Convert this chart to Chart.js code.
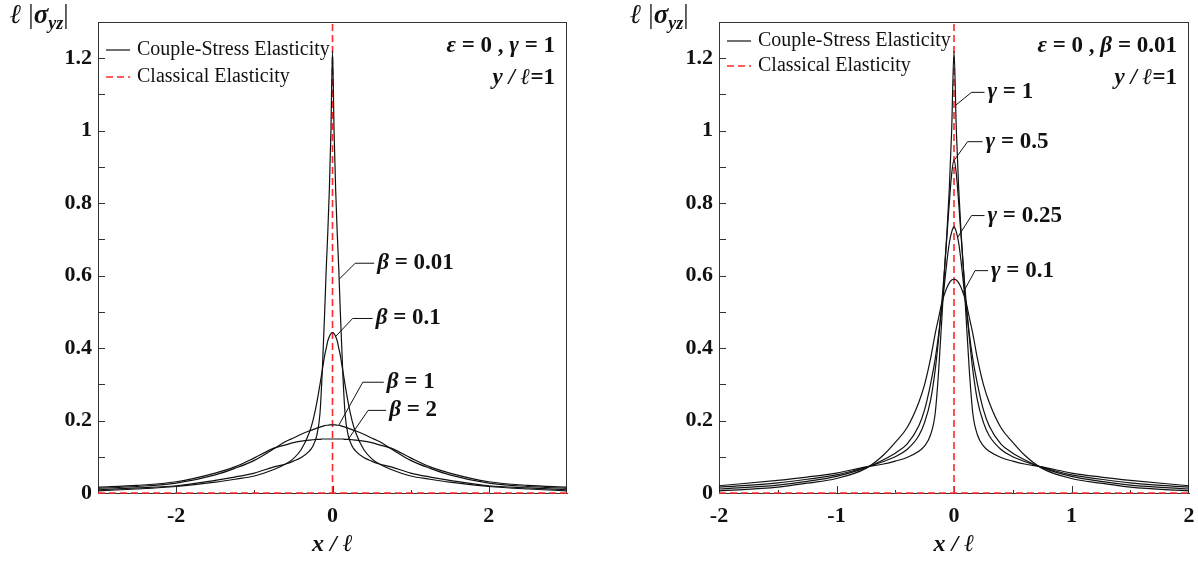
<!DOCTYPE html>
<html lang="en">
<head>
<meta charset="UTF-8">
<title>Couple-stress elasticity</title>
<style>
    body { margin: 0; background: #fff; }
    .panel { position: absolute; top: 0; }
</style>
</head>
<body>
<div class="panel" style="left:0"><canvas id="leftChart" width="600" height="561"></canvas></div>
<div class="panel" style="left:600px"><canvas id="rightChart" width="598" height="561"></canvas></div>

<script src="https://cdn.jsdelivr.net/npm/chart.js"></script>
<script>
// ---- data ----
// left panel: eps = 0, gamma = 1, y/l = 1
var xLeft = [-3, -2.5, -2, -1.5, -1.25, -1, -0.75, -0.6, -0.5, -0.4, -0.3, -0.25, -0.2, -0.16, -0.13, -0.1, -0.08, -0.06, -0.04, -0.02,
    0, 0.02, 0.04, 0.06, 0.08, 0.1, 0.13, 0.16, 0.2, 0.25, 0.3, 0.4, 0.5, 0.6, 0.75, 1, 1.25, 1.5, 2, 2.5, 3];
var beta001 = [0.009, 0.014, 0.02, 0.035, 0.044, 0.055, 0.072, 0.08, 0.088, 0.098, 0.115, 0.13, 0.16, 0.22, 0.34, 0.5, 0.62, 0.72, 0.84, 1.0,
    1.22, 1.0, 0.84, 0.72, 0.62, 0.5, 0.34, 0.22, 0.16, 0.13, 0.115, 0.098, 0.088, 0.08, 0.072, 0.055, 0.044, 0.035, 0.02, 0.014, 0.009];
var beta01 = [0.006, 0.011, 0.018, 0.03, 0.038, 0.047, 0.065, 0.08, 0.095, 0.12, 0.165, 0.2, 0.25, 0.3, 0.34, 0.38, 0.4, 0.42, 0.432, 0.44,
    0.443, 0.44, 0.432, 0.42, 0.4, 0.38, 0.34, 0.3, 0.25, 0.2, 0.165, 0.12, 0.095, 0.08, 0.065, 0.047, 0.038, 0.03, 0.018, 0.011, 0.006];
var beta1 = [0.013, 0.018, 0.027, 0.05, 0.068, 0.09, 0.122, 0.142, 0.152, 0.162, 0.171, 0.175, 0.179, 0.182, 0.184, 0.186, 0.187, 0.187, 0.188, 0.188,
    0.188, 0.188, 0.188, 0.187, 0.187, 0.186, 0.184, 0.182, 0.179, 0.175, 0.171, 0.162, 0.152, 0.142, 0.122, 0.09, 0.068, 0.05, 0.027, 0.018, 0.013];
var beta2 = [0.016, 0.021, 0.031, 0.055, 0.072, 0.097, 0.124, 0.133, 0.139, 0.143, 0.146, 0.147, 0.148, 0.148, 0.149, 0.149, 0.149, 0.149, 0.149, 0.149,
    0.149, 0.149, 0.149, 0.149, 0.149, 0.149, 0.149, 0.148, 0.148, 0.147, 0.146, 0.143, 0.139, 0.133, 0.124, 0.097, 0.072, 0.055, 0.031, 0.021, 0.016];

// right panel: eps = 0, beta = 0.01, y/l = 1
var xRight = [-2, -1.5, -1.25, -1, -0.75, -0.6, -0.5, -0.4, -0.3, -0.25, -0.2, -0.16, -0.13, -0.1, -0.08, -0.06, -0.04, -0.02,
    0, 0.02, 0.04, 0.06, 0.08, 0.1, 0.13, 0.16, 0.2, 0.25, 0.3, 0.4, 0.5, 0.6, 0.75, 1, 1.25, 1.5, 2];
var gamma1 = [0.02, 0.035, 0.044, 0.055, 0.072, 0.08, 0.088, 0.098, 0.115, 0.13, 0.16, 0.22, 0.34, 0.5, 0.62, 0.72, 0.84, 1.0,
    1.22, 1.0, 0.84, 0.72, 0.62, 0.5, 0.34, 0.22, 0.16, 0.13, 0.115, 0.098, 0.088, 0.08, 0.072, 0.055, 0.044, 0.035, 0.02];
var gamma05 = [0.016, 0.028, 0.038, 0.05, 0.071, 0.087, 0.1, 0.12, 0.158, 0.195, 0.255, 0.34, 0.43, 0.54, 0.62, 0.71, 0.8, 0.88,
    0.92, 0.88, 0.8, 0.71, 0.62, 0.54, 0.43, 0.34, 0.255, 0.195, 0.158, 0.12, 0.1, 0.087, 0.071, 0.05, 0.038, 0.028, 0.016];
var gamma025 = [0.011, 0.022, 0.032, 0.046, 0.07, 0.092, 0.11, 0.135, 0.185, 0.23, 0.3, 0.37, 0.44, 0.52, 0.58, 0.64, 0.69, 0.72,
    0.735, 0.72, 0.69, 0.64, 0.58, 0.52, 0.44, 0.37, 0.3, 0.23, 0.185, 0.135, 0.11, 0.092, 0.07, 0.046, 0.032, 0.022, 0.011];
var gamma01 = [0.006, 0.016, 0.027, 0.04, 0.068, 0.105, 0.14, 0.18, 0.25, 0.3, 0.37, 0.44, 0.485, 0.53, 0.55, 0.567, 0.58, 0.588,
    0.59, 0.588, 0.58, 0.567, 0.55, 0.53, 0.485, 0.44, 0.37, 0.3, 0.25, 0.18, 0.14, 0.105, 0.068, 0.04, 0.027, 0.016, 0.006];

// classical elasticity: zero line plus the singular line at x = 0
var classicSpikeX = [0, 0];
var classicSpikeY = [0, 1.3];

var yTicks = [0, 0.2, 0.4, 0.6, 0.8, 1, 1.2];
var xTicksLeft = [-2, 0, 2];
var xTicksRight = [-2, -1, 0, 1, 2];

var SERIF = '"Liberation Serif", "Times New Roman", serif';
var RED = '#ff2a2a';

function pts(xs, ys) {
    return xs.map(function (x, i) { return { x: x, y: ys[i] }; });
}

function curve(xs, ys) {
    return {
        data: pts(xs, ys),
        borderColor: '#111',
        borderWidth: 1.2,
        pointRadius: 0,
        cubicInterpolationMode: 'monotone',
        fill: false
    };
}

function dashed(xs, ys) {
    return {
        data: pts(xs, ys),
        borderColor: RED,
        borderWidth: 1.6,
        borderDash: [7, 4],
        pointRadius: 0,
        tension: 0,
        clip: 4
    };
}

function fontFor(p, size) {
    var s = p.sub ? Math.round(size * 0.68) : size;
    return (p.it ? 'italic ' : '') + (p.normal ? '' : 'bold ') + s + 'px ' + SERIF;
}

function drawRich(ctx, parts, x, y, size, align) {
    var w = 0;
    parts.forEach(function (p) { ctx.font = fontFor(p, size); w += ctx.measureText(p.t).width; });
    var cx = align === 'right' ? x - w : (align === 'center' ? x - w / 2 : x);
    ctx.textAlign = 'left';
    parts.forEach(function (p) {
        ctx.font = fontFor(p, size);
        ctx.fillText(p.t, cx, y + (p.sub ? size * 0.3 : 0));
        cx += ctx.measureText(p.t).width;
    });
}

// inward ticks, frame, legend and annotations
var decor = {
    id: 'decor',
    beforeDatasetsDraw: function (chart, args, o) {
        var ctx = chart.ctx, a = chart.chartArea, xs = chart.scales.x, ys = chart.scales.y;
        ctx.save();
        ctx.strokeStyle = '#333';
        ctx.lineWidth = 1;
        ctx.strokeRect(a.left + 0.5, a.top + 0.5, a.right - a.left - 1, a.bottom - a.top);
        ctx.beginPath();
        for (var v = 0; v <= 12; v++) {
            var py = Math.round(ys.getPixelForValue(v / 10)) + 0.5;
            ctx.moveTo(a.left, py);
            ctx.lineTo(a.left + 7, py);
        }
        o.xMajor.forEach(function (v) {
            var px = Math.round(xs.getPixelForValue(v)) + 0.5;
            ctx.moveTo(px, a.bottom);
            ctx.lineTo(px, a.bottom - 7);
        });
        o.xMinor.forEach(function (v) {
            var px = Math.round(xs.getPixelForValue(v)) + 0.5;
            ctx.moveTo(px, a.bottom);
            ctx.lineTo(px, a.bottom - 3);
        });
        ctx.stroke();
        ctx.restore();
    },
    afterDraw: function (chart, args, o) {
        var ctx = chart.ctx, a = chart.chartArea, xs = chart.scales.x, ys = chart.scales.y;
        ctx.save();
        ctx.fillStyle = '#111';
        ctx.textBaseline = 'middle';

        // y axis title  l|sigma_yz|
        drawRich(ctx, [{ t: 'ℓ', it: true }, { t: ' |', normal: true }, { t: 'σ', it: true }, { t: 'yz', it: true, sub: true }, { t: '|', normal: true }],
            o.yTitleX, 16, 27, 'left');
        // x axis title
        drawRich(ctx, [{ t: 'x', it: true }, { t: ' / ', it: true }, { t: 'ℓ', it: true }], (a.left + a.right) / 2, 545, 24, 'center');

        // legend
        var lx = a.left + o.legendDx;
        ctx.lineWidth = 1.2;
        ctx.strokeStyle = '#111';
        ctx.beginPath();
        ctx.moveTo(lx, o.legendY[0]); ctx.lineTo(lx + 24, o.legendY[0]);
        ctx.stroke();
        ctx.strokeStyle = RED;
        ctx.lineWidth = 1.6;
        ctx.setLineDash([7, 4]);
        ctx.beginPath();
        ctx.moveTo(lx, o.legendY[1]); ctx.lineTo(lx + 24, o.legendY[1]);
        ctx.stroke();
        ctx.setLineDash([]);
        drawRich(ctx, [{ t: 'Couple-Stress Elasticity', normal: true }], lx + 31, o.legendY[0], 20, 'left');
        drawRich(ctx, [{ t: 'Classical Elasticity', normal: true }], lx + 31, o.legendY[1], 20, 'left');

        // parameter notes
        drawRich(ctx, o.note, a.right - 12, 46, 23, 'right');
        drawRich(ctx, [{ t: 'y', it: true }, { t: ' / ', it: true }, { t: 'ℓ', it: true }, { t: '=1' }], a.right - 12, 78, 23, 'right');

        // curve labels with leaders
        ctx.strokeStyle = '#111';
        ctx.lineWidth = 1;
        o.labels.forEach(function (l) {
            var px = xs.getPixelForValue(l.x), py = ys.getPixelForValue(l.y);
            var ex = px + l.dx, ey = py + l.dy;
            ctx.beginPath();
            ctx.moveTo(px, py); ctx.lineTo(ex, ey); ctx.lineTo(ex + l.len, ey);
            ctx.stroke();
            drawRich(ctx, [{ t: l.sym, it: true }, { t: ' = ' + l.val }], ex + l.len + 3, ey, 23, 'left');
        });
        ctx.restore();
    }
};

function makeChart(id, xs, series, xMin, xMax, xTickVals, yAxisWidth, padRight, decorOpts) {
    var ds = series.map(function (s) { return curve(xs, s); });
    ds.push(dashed([xMin, xMax], [0, 0]));
    ds.push(dashed(classicSpikeX, classicSpikeY));
    return new Chart(document.getElementById(id).getContext('2d'), {
        type: 'line',
        data: { datasets: ds },
        options: {
            responsive: false,
            animation: false,
            devicePixelRatio: 1,
            layout: { padding: { top: 22, right: padRight, left: 0, bottom: 0 } },
            plugins: { legend: { display: false }, tooltip: { enabled: false }, decor: decorOpts },
            scales: {
                x: {
                    type: 'linear', min: xMin, max: xMax,
                    grid: { display: false, drawTicks: false },
                    border: { display: true, color: '#333', width: 1 },
                    afterBuildTicks: function (s) { s.ticks = xTickVals.map(function (v) { return { value: v }; }); },
                    afterFit: function (s) { s.height = 68; s.paddingLeft = 0; s.paddingRight = 0; },
                    ticks: {
                        color: '#111', padding: 10, maxRotation: 0,
                        font: { family: SERIF, size: 22, weight: 'bold' },
                        callback: function (v) { return String(v); }
                    }
                },
                y: {
                    min: 0, max: 1.3,
                    grid: { display: false, drawTicks: false },
                    border: { display: true, color: '#333', width: 1 },
                    afterBuildTicks: function (s) { s.ticks = yTicks.map(function (v) { return { value: v }; }); },
                    afterFit: function (s) { s.width = yAxisWidth; s.paddingTop = 0; s.paddingBottom = 0; },
                    ticks: {
                        color: '#111', padding: 6,
                        font: { family: SERIF, size: 22, weight: 'bold' },
                        callback: function (v) { return String(Math.round(v * 10) / 10); }
                    }
                }
            }
        },
        plugins: [decor]
    });
}

makeChart('leftChart', xLeft, [beta001, beta01, beta1, beta2], -3, 3, xTicksLeft, 98, 33, {
    xMajor: [-2, 0, 2], xMinor: [-1, 1],
    yTitleX: 10, legendDx: 8, legendY: [50, 77],
    note: [{ t: 'ε', it: true }, { t: ' = 0 , ' }, { t: 'γ', it: true }, { t: ' = 1' }],
    labels: [
        { sym: 'β', val: '0.01', x: 0.085, y: 0.59, dx: 16, dy: -16, len: 19 },
        { sym: 'β', val: '0.1', x: 0.04, y: 0.432, dx: 17, dy: -18, len: 20 },
        { sym: 'β', val: '1', x: 0.08, y: 0.187, dx: 24, dy: -43, len: 21 },
        { sym: 'β', val: '2', x: 0.2, y: 0.148, dx: 20, dy: -29, len: 18 }
    ]
});

makeChart('rightChart', xRight, [gamma1, gamma05, gamma025, gamma01], -2, 2, xTicksRight, 119, 9, {
    xMajor: [-1, 0, 1], xMinor: [-1.5, -0.5, 0.5, 1.5],
    yTitleX: 30, legendDx: 8, legendY: [41, 66],
    note: [{ t: 'ε', it: true }, { t: ' = 0 , ' }, { t: 'β', it: true }, { t: ' = 0.01' }],
    labels: [
        { sym: 'γ', val: '1', x: 0.013, y: 1.07, dx: 16, dy: -13, len: 13 },
        { sym: 'γ', val: '0.5', x: 0.005, y: 0.92, dx: 13, dy: -18, len: 15 },
        { sym: 'γ', val: '0.25', x: 0.03, y: 0.705, dx: 14, dy: -22, len: 13 },
        { sym: 'γ', val: '0.1', x: 0.077, y: 0.553, dx: 12, dy: -22, len: 13 }
    ]
});
</script>
</body>
</html>
